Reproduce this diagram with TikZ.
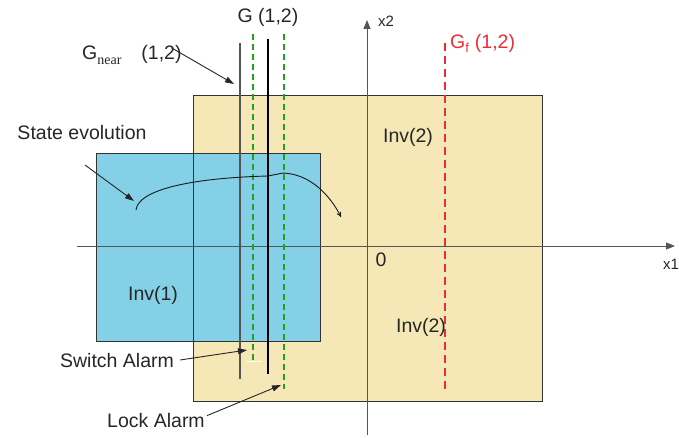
\documentclass[tikz,border=0pt]{standalone}
\usepackage{fontspec}
\setmainfont{Liberation Sans}
\newfontfamily\subserif{Liberation Serif}
\usetikzlibrary{arrows.meta}
\definecolor{invyellow}{HTML}{F5E7B6}
\definecolor{invblue}{HTML}{84D0E6}
\definecolor{guardgreen}{HTML}{23A020}
\definecolor{guardred}{HTML}{EE2C36}
\definecolor{axisgray}{HTML}{555555}
\begin{document}
\begin{tikzpicture}[x=1pt,y=-1pt,
  lbl/.style={inner sep=0pt,font=\fontsize{19.5}{22}\selectfont,text=black!85},
  small/.style={inner sep=0pt,font=\fontsize{15}{17}\selectfont,text=black!85},
  axis/.style={draw=axisgray,line width=1pt,-{Triangle[length=9pt,width=7pt]}},
  pointer/.style={draw=black!85,line width=0.9pt,-{Triangle[length=9pt,width=6pt]}},
  solidguard/.style={line width=1.2pt},
  dashguard/.style={draw=guardgreen,line width=1.1pt,dash pattern=on 6pt off 4pt},
  region/.style={draw=black!80,line width=0.9pt}]
\useasboundingbox (0,0) rectangle (679,438);
% invariants
\fill[invyellow] (193,95) rectangle (542,401);
\draw[region] (193,95) rectangle (542,401);
\fill[invblue] (96,153) rectangle (320,341);
\draw[region] (96,153) rectangle (320,341);
\draw[black!80,line width=0.9pt] (193,153) -- (193,341);
% axes
\coordinate (x1s) at (77,246);
\coordinate (x1e) at (675,246);
\coordinate (x2s) at (367,435);
\coordinate (x2e) at (367,20);
\draw[axis] (x1s) -- (x1e);
\draw[axis] (x2s) -- (x2e);
% guards
\coordinate (gnt) at (240,43); \coordinate (gnb) at (240,379);
\coordinate (swt) at (253,34); \coordinate (swb) at (253,361);
\coordinate (gt) at (268,39);  \coordinate (gb) at (268,374);
\coordinate (lkt) at (284,34); \coordinate (lkb) at (284,389);
\coordinate (gft) at (445,43); \coordinate (gfb) at (445,392);
\draw[solidguard,draw=axisgray] (gnt) -- (gnb);
\draw[dashguard] (swt) -- (swb);
\draw[white,line width=0.8pt] (246,361) -- (262,361);
\draw[solidguard,draw=black] (gt) -- (gb);
\draw[dashguard] (lkt) -- (lkb);
\draw[draw=guardred,line width=1.1pt,dash pattern=on 8pt off 5pt] (gft) -- (gfb);
% state evolution curve
\coordinate (cs) at (136,210);
\coordinate (cm) at (268,176);
\coordinate (ck) at (283,173);
\coordinate (ce) at (341,217);
\draw[black!90,line width=0.9pt,-{To[length=5pt,width=5pt]}] (cs) .. controls (138,190) and (190,178) .. (cm) -- (ck) .. controls (310,174) and (330,195) .. (ce);
% labels
\node[lbl] (gl) at (268,17) {G (1,2)};
\node[lbl,anchor=west] (gnear) at (82,55) {G\raisebox{-5pt}{\subserif\fontsize{14}{16}\selectfont near}\hspace{20pt}(1,2)};
\node[small] (x2l) at (386,21) {x2};
\node[lbl,text=guardred,anchor=west] (gfl) at (450,43) {G\raisebox{-4pt}{\fontsize{13}{15}\selectfont f}\hspace{6pt}(1,2)};
\node[lbl] (inv2a) at (408,137) {Inv(2)};
\node[lbl] (se) at (82,133) {State evolution};
\node[lbl] (zero) at (381,260) {0};
\node[small] (x1l) at (671,264) {x1};
\node[lbl] (inv1) at (153,295) {Inv(1)};
\node[lbl] (inv2b) at (421,327) {Inv(2)};
\node[lbl] (swl) at (117,361) {Switch Alarm};
\node[lbl] (lkl) at (156,421) {Lock Alarm};
% pointers
\coordinate (pgn) at (234,84);
\coordinate (pse) at (134,201);
\coordinate (psw) at (247,350);
\coordinate (plk) at (281,385);
\draw[pointer] (gnear.east) ++(-10pt,7pt) -- (pgn);
\draw[pointer] (85,165) -- (pse);
\draw[pointer] (swl.east) ++(6pt,1pt) -- (psw);
\draw[pointer] (lkl.north east) ++(2pt,-2pt) -- (plk);
\end{tikzpicture}
\end{document}
